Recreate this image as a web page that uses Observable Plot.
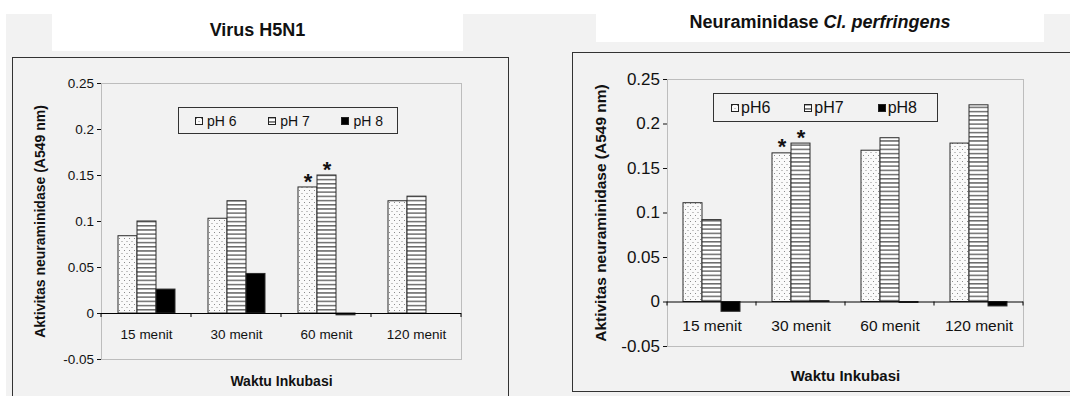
<!DOCTYPE html>
<html>
<head>
<meta charset="utf-8">
<script src="https://cdn.jsdelivr.net/npm/d3@7"></script>
<script src="https://cdn.jsdelivr.net/npm/@observablehq/plot@0.6"></script>
<style>
  html, body { margin: 0; padding: 0; }
  body { width: 1070px; height: 396px; overflow: hidden; background: #fff; position: relative;
         font-family: "Liberation Sans", Arial, sans-serif; color: #111; }
  .bg { position: absolute; left: 6px; top: 14px; width: 1064px; height: 382px; background: #f2f2f2; }
  .tbox { position: absolute; background: #fff; font-weight: bold; text-align: center; }
  .box { position: absolute; border: 1.5px solid #333; box-sizing: border-box; }
  .chart { position: absolute; }
  .chart svg { font-family: "Liberation Sans", Arial, sans-serif !important; }
  .legend { position: absolute; border: 1.5px solid #333; box-sizing: border-box; background: #f2f2f2;
            display: flex; align-items: center; justify-content: space-between; }
  .legend span.item { display: flex; align-items: center; }
  .legend svg { display: block; }
  g[aria-label="y-axis label"] text { font-weight: bold; }
</style>
</head>
<body>
<svg width="0" height="0" style="position:absolute">
  <defs>
    <pattern id="dots" width="5" height="6" patternUnits="userSpaceOnUse">
      <rect width="5" height="6" fill="#fafafa"/>
      <rect x="1" y="1" width="1" height="1" fill="#8c8c8c"/>
      <rect x="3.5" y="4" width="1" height="1" fill="#8c8c8c"/>
    </pattern>
    <pattern id="stripes" width="4" height="4.2" patternUnits="userSpaceOnUse">
      <rect width="4" height="4.2" fill="#ffffff"/>
      <rect y="0" width="4" height="1.5" fill="#6a6a6a"/>
    </pattern>
  </defs>
</svg>
<div class="bg"></div>
<div class="tbox" style="left:52px;top:14px;width:411px;height:37px;font-size:18px;line-height:33px;">Virus H5N1</div>
<div class="tbox" style="left:596px;top:14px;width:448px;height:28px;font-size:18px;line-height:17px;">Neuraminidase <i>Cl. perfringens</i></div>
<div class="box" style="left:12px;top:57px;width:497px;height:360px;"></div>
<div class="box" style="left:572px;top:52px;width:520px;height:340px;"></div>
<div id="left" class="chart" style="left:12px;top:57px;"></div>
<div id="right" class="chart" style="left:572px;top:52px;"></div>
<div id="legL" class="legend" style="left:178px;top:107px;width:220px;height:27px;font-size:14px;padding:0 14px 0 16px;"></div>
<div id="legR" class="legend" style="left:713px;top:93px;width:225px;height:29px;font-size:16px;padding:0 20px 0 17px;"></div>
<script>
// ---------- data ----------
const categories = ["15 menit", "30 menit", "60 menit", "120 menit"];
const phLevels = ["pH 6", "pH 7", "pH 8"];
const phLabelsRight = ["pH6", "pH7", "pH8"];
const yTicks = [-0.05, 0, 0.05, 0.1, 0.15, 0.2, 0.25];

// Virus H5N1
const h5n1_pH6 = [0.084, 0.103, 0.137, 0.122];
const h5n1_pH7 = [0.100, 0.122, 0.150, 0.127];
const h5n1_pH8 = [0.026, 0.043, -0.002, 0];
const h5n1_sig = [["60 menit", "pH 6"], ["60 menit", "pH 7"]];

// Neuraminidase Cl. perfringens
const clp_pH6 = [0.111, 0.167, 0.170, 0.178];
const clp_pH7 = [0.092, 0.178, 0.184, 0.221];
const clp_pH8 = [-0.011, 0.001, -0.001, -0.005];
const clp_sig = [["30 menit", "pH 6"], ["30 menit", "pH 7"]];

const fills = ["url(#dots)", "url(#stripes)", "#000"];
const yLabel = "Aktivitas neuraminidase (A549 nm)";
const xLabel = "Waktu Inkubasi";

function rowsOf(s6, s7, s8) {
  const series = [s6, s7, s8];
  const rows = [];
  categories.forEach((c, i) => phLevels.forEach((p, j) => rows.push({time: c, ph: p, value: series[j][i]})));
  return rows;
}

const fmt = d => String(Math.round(d * 100) / 100);

function chart(rows, sig, cfg) {
  const sigRows = sig.map(([t, p]) => rows.find(r => r.time === t && r.ph === p));
  return Plot.plot({
    width: cfg.width, height: cfg.height,
    marginLeft: cfg.ml, marginRight: cfg.mr, marginTop: cfg.mt, marginBottom: cfg.mb,
    style: {background: "transparent", fontFamily: "Liberation Sans, Arial, sans-serif", fontSize: cfg.fs + "px", color: "#111", overflow: "visible"},
    fx: {domain: categories, padding: 0, axis: null},
    x: {domain: phLevels, paddingInner: 0, paddingOuter: 0.76, axis: null},
    y: {domain: [-0.05, 0.25], axis: null},
    color: {domain: phLevels, range: fills},
    marks: [
      Plot.frame({facet: "super", stroke: "#bdbdbd"}),
      Plot.barY(rows, {fx: "time", x: "ph", y: "value", fill: "ph", stroke: "#2a2a2a", strokeWidth: 1}),
      Plot.ruleY([0], {stroke: "#000", strokeWidth: 1.2}),
      Plot.frame({facet: "super", stroke: "none", render: (I, s) => {
        const g = d3.create("svg:g");
        const fx = s.fx, y0 = s.y ? s.y(0) : null;
        if (fx && fx.domain && y0 != null) {
          const dom = fx.domain();
          const xs = dom.map(d => fx(d));
          xs.push(fx(dom[dom.length - 1]) + fx.bandwidth());
          xs.forEach(x => g.append("line").attr("x1", x).attr("x2", x).attr("y1", y0).attr("y2", y0 + 4).attr("stroke", "#000"));
        }
        return g.node();
      }}),
      Plot.axisY({ticks: yTicks, tickFormat: fmt, tickSize: 4, tickPadding: 3.5, line: true, fontSize: cfg.yfs,
                  label: yLabel, labelAnchor: "center", labelOffset: cfg.labelOffset, labelArrow: "none"}),
      Plot.text(categories, {fx: d => d, text: d => d, frameAnchor: "bottom", dy: cfg.catDy}),
      Plot.text([xLabel], {facet: "super", frameAnchor: "bottom", dy: cfg.titleDy, fontWeight: "bold", fontSize: cfg.titleFs}),
      Plot.text(sigRows, {fx: "time", x: "ph", y: "value", text: () => "*", dy: -6, fontSize: 22, fontWeight: "bold"})
    ]
  });
}

const left = chart(rowsOf(h5n1_pH6, h5n1_pH7, h5n1_pH8), h5n1_sig,
  {width: 497, height: 339, ml: 88, mr: 47, mt: 26, mb: 37, fs: 13.5, yfs: 13.5, labelOffset: 66, catDy: -21, titleDy: 26, titleFs: 14});
const right = chart(rowsOf(clp_pH6, clp_pH7, clp_pH8), clp_sig,
  {width: 498, height: 340, ml: 93, mr: 46, mt: 27, mb: 46, fs: 15.5, yfs: 17, labelOffset: 73, catDy: -16, titleDy: 34, titleFs: 15});
document.getElementById("left").append(left);
document.getElementById("right").append(right);
const lyl = left.querySelector('g[aria-label="y-axis label"]'); if (lyl) lyl.style.fontSize = "14px";
const ryl = right.querySelector('g[aria-label="y-axis label"]'); if (ryl) ryl.style.fontSize = "15.5px";

function legend(id, labels, gap) {
  const el = document.getElementById(id);
  labels.forEach((lab, j) => {
    const item = document.createElement("span");
    item.className = "item";
    item.innerHTML = `<svg width="8" height="8" style="margin-right:${gap}px"><rect x="0.5" y="0.5" width="7" height="7" fill="${fills[j]}" stroke="#222"/></svg><span>${lab}</span>`;
    el.append(item);
  });
}
legend("legL", phLevels, 4);
legend("legR", phLabelsRight, 2);
</script>
</body>
</html>
